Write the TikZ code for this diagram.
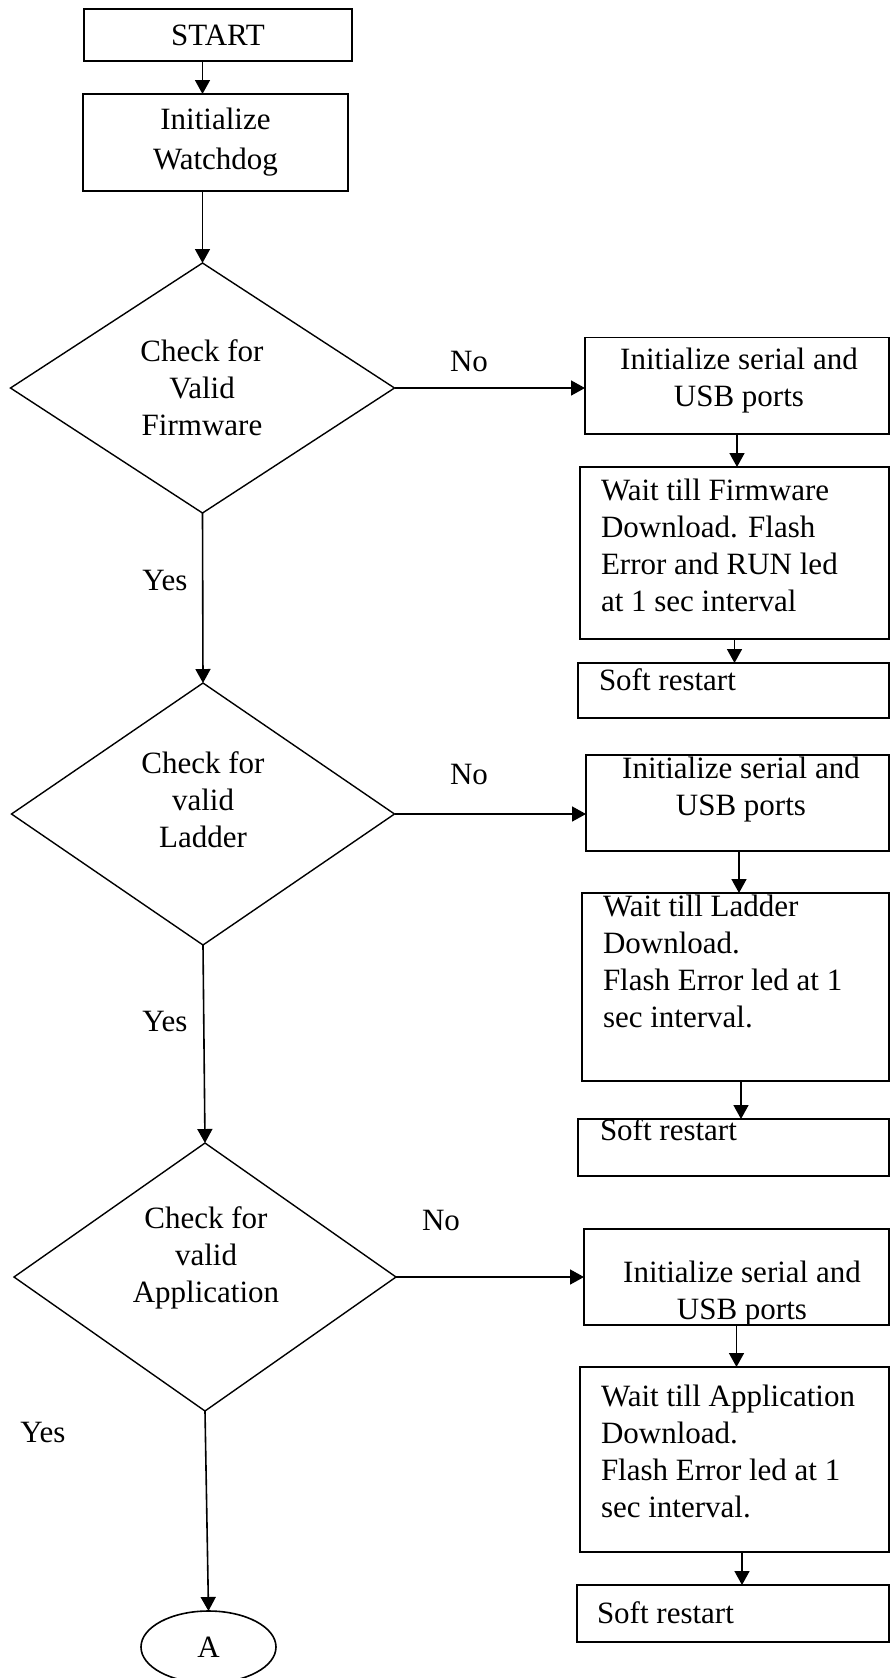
\documentclass[tikz,border=0pt]{standalone}
\usepackage{fontspec}
\setmainfont{Liberation Serif}
\usetikzlibrary{shapes.geometric,arrows.meta,calc}
\newcommand\flowfont{\fontsize{15.5pt}{18.5pt}\selectfont}
\begin{document}
\begin{tikzpicture}[x=0.5pt,y=-0.5pt,
  every node/.style={inner sep=0pt, outer sep=0pt, font=\flowfont},
  box/.style={draw, rectangle, line width=0.8pt},
  decision/.style={draw, diamond, line width=0.7pt},
  terminal/.style={draw, ellipse, line width=0.8pt},
  flow/.style={draw, line width=0.8pt, -{Triangle[width=7.5pt,length=7pt]}},
  caption/.style={align=center},
  note/.style={align=left, anchor=west},
]
\useasboundingbox (0,0) rectangle (891,1678);

% ---- main column ----
\node[box, minimum width=134pt, minimum height=26pt] (start) at (218,35) {START};
\node[box, minimum width=132.5pt, minimum height=48.5pt, align=center,
      font=\fontsize{15.5pt}{20pt}\selectfont] (wd) at (215.5,142.5) {Initialize\\Watchdog};

\node[decision, minimum width=192pt, minimum height=125pt] (d1) at (202.5,388) {};
\node[caption] (d1t) at (202,388) {Check for\\Valid\\Firmware};

\node[decision, minimum width=191.5pt, minimum height=131pt] (d2) at (203,814) {};
\node[caption] (d2t) at (203,800) {Check for\\valid\\Ladder};

\node[decision, minimum width=191pt, minimum height=134pt] (d3) at (205,1277) {};
\node[caption] (d3t) at (206,1258) {Check for\\valid\\Application};

\node[terminal, minimum width=67.5pt, minimum height=36pt] (ea) at (208.5,1647) {A};

% ---- firmware branch ----
\node[box, minimum width=152pt, minimum height=48.25pt] (s1) at (737,385.75) {};
\node[caption] (s1t) at (739,381) {Initialize serial and\\USB ports};
\node[box, minimum width=154.5pt, minimum height=86pt] (w1) at (734.5,553) {};
\node[note] (w1t) at (601,545) {Wait till Firmware\\Download. Flash\\Error and RUN led\\at 1 sec interval};
\node[box, minimum width=155.5pt, minimum height=27.5pt] (r1) at (733.5,690.5) {};
\node[note] (r1t) at (599,680) {Soft restart};

% ---- ladder branch ----
\node[box, minimum width=151.5pt, minimum height=48pt] (s2) at (737.5,803) {};
\node[caption] (s2t) at (741,790) {Initialize serial and\\USB ports};
\node[box, minimum width=153.5pt, minimum height=94pt] (w2) at (735.5,987) {};
\node[note] (w2t) at (603,961) {Wait till Ladder\\Download.\\Flash Error led at 1\\sec interval.};
\node[box, minimum width=155.5pt, minimum height=28.5pt] (r2) at (733.5,1147.5) {};
\node[note] (r2t) at (600,1130) {Soft restart};

% ---- application branch ----
\node[box, minimum width=152.5pt, minimum height=48pt] (s3) at (736.5,1277) {};
\node[caption] (s3t) at (742,1294) {Initialize serial and\\USB ports};
\node[box, minimum width=154.5pt, minimum height=92.5pt] (w3) at (734.5,1459.5) {};
\node[note] (w3t) at (601,1451) {Wait till Application\\Download.\\Flash Error led at 1\\sec interval.};
\node[box, minimum width=156pt, minimum height=28.5pt] (r3) at (733,1613.5) {};
\node[note] (r3t) at (597,1613) {Soft restart};

% ---- branch labels ----
\node (no1) at (469,361) {No};
\node (no2) at (469,774) {No};
\node (no3) at (441,1220) {No};
\node (yes1) at (165,580) {Yes};
\node (yes2) at (165,1021) {Yes};
\node (yes3) at (43,1432) {Yes};

% ---- connectors ----
\draw[flow] (start.south -| d1.north) -- (wd.north -| d1.north);
\draw[flow] (wd.south -| d1.north) -- (d1.north);
\draw[flow] (d1.east) -- (d1.east -| s1.west);
\draw[flow] (s1.south) -- (s1.south |- w1.north);
\draw[flow] (w1.south) -- (w1.south |- r1.north);
\draw[flow] (d1.south) -- (d2.north);

\draw[flow] (d2.east) -- (d2.east -| s2.west);
\draw[flow] ($(s2.south)+(1.5,0)$) -- ($(s2.south |- w2.north)+(1.5,0)$);
\draw[flow] ($(w2.south)+(5.5,0)$) -- ($(w2.south |- r2.north)+(5.5,0)$);
\draw[flow] (d2.south) -- (d3.north);

\draw[flow] (d3.east) -- (d3.east -| s3.west);
\draw[flow] (s3.south) -- (s3.south |- w3.north);
\draw[flow] ($(w3.south)+(7.5,0)$) -- ($(w3.south |- r3.north)+(7.5,0)$);
\draw[flow] (d3.south) -- (ea.north);
\end{tikzpicture}
\end{document}
